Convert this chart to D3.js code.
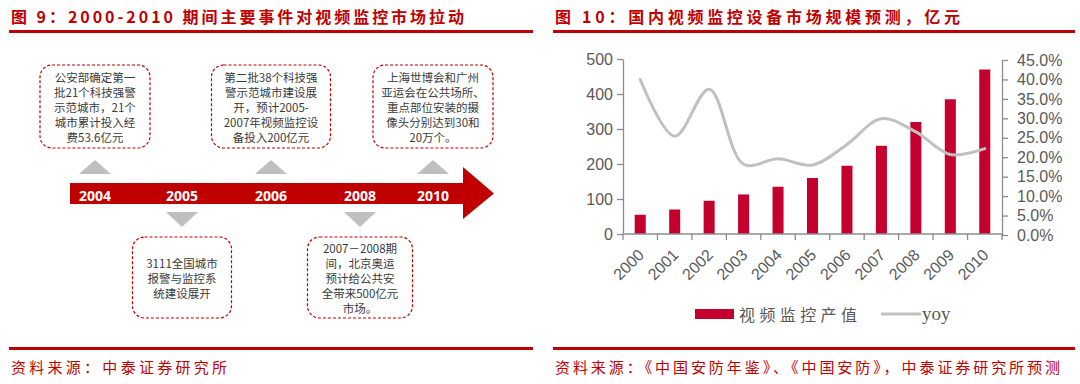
<!DOCTYPE html>
<html>
<head>
<meta charset="utf-8">
<script src="https://cdn.jsdelivr.net/npm/d3@7"></script>
<style>
  html, body { margin: 0; padding: 0; background: #fff; }
  svg { display: block; }
</style>
</head>
<body>
<div id="chart"></div>
<script>
// Two panels: a timeline of events (left) and a bar + yoy line chart (right).

// ---- data: left panel (timeline) ----
const eventYears = ['2004', '2005', '2006', '2008', '2010'];
const eventSide = ['up', 'down', 'up', 'down', 'up'];
const eventTexts = [
  ['公安部确定第一', '批21个科技强警', '示范城市，21个', '城市累计投入经', '费53.6亿元'],
  ['3111全国城市', '报警与监控系', '统建设展开'],
  ['第二批38个科技强', '警示范城市建设展', '开，预计2005-', '2007年视频监控设', '备投入200亿元'],
  ['2007－2008期', '间，北京奥运', '预计给公共安', '全带来500亿元', '市场。'],
  ['上海世博会和广州', '亚运会在公共场所、', '重点部位安装的摄', '像头分别达到30和', '20万个。']
];

// ---- data: right panel (market size) ----
const years = ['2000', '2001', '2002', '2003', '2004', '2005', '2006', '2007', '2008', '2009', '2010'];
const outputValues = [55, 70, 95, 113, 135, 160, 195, 252, 320, 385, 470];
const yoyValues = [0.40, 0.254, 0.375, 0.182, 0.196, 0.180, 0.233, 0.299, 0.265, 0.207, 0.222];
const leftTicks = [0, 100, 200, 300, 400, 500];
const rightTicks = [0, 0.05, 0.10, 0.15, 0.20, 0.25, 0.30, 0.35, 0.40, 0.45];
const seriesNames = ['视频监控产值', 'yoy'];

const titles = ['图 9：2000-2010 期间主要事件对视频监控市场拉动', '图 10：国内视频监控设备市场规模预测，亿元'];
const sources = ['资料来源：中泰证券研究所', '资料来源：《中国安防年鉴》、《中国安防》，中泰证券研究所预测'];

const RED = '#c00000';
const BAR = '#c4002f';
const LINE = '#c0c0c0';
const AXIS = '#8c8c8c';
const TXT = '#595959';
const CJK = '"Noto Sans CJK SC", "Noto Sans", sans-serif';

const W = 1080, H = 384;
const svg = d3.select('#chart').append('svg')
  .attr('width', W).attr('height', H)
  .style('background', '#fff');

// ---- frame: titles, rules, sources ----
const frames = [
  { x0: 9, x1: 533, titleW: 453, srcW: 216 },
  { x0: 553, x1: 1075, titleW: 405, srcW: 505 }
];
frames.forEach((f, i) => {
  svg.append('text')
    .attr('x', f.x0 + 2).attr('y', 16)
    .attr('dominant-baseline', 'central')
    .attr('font-family', CJK).attr('font-weight', 700).attr('font-size', 16)
    .attr('fill', RED)
    .attr('textLength', f.titleW).attr('lengthAdjust', 'spacing')
    .text(titles[i]);
  svg.append('rect').attr('x', f.x0).attr('y', 30).attr('width', f.x1 - f.x0).attr('height', 3).attr('fill', RED);
  svg.append('rect').attr('x', f.x0).attr('y', 347).attr('width', f.x1 - f.x0).attr('height', 3).attr('fill', RED);
  svg.append('text')
    .attr('x', f.x0 + 2).attr('y', 366)
    .attr('dominant-baseline', 'central')
    .attr('font-family', CJK).attr('font-size', 15)
    .attr('fill', RED)
    .attr('textLength', f.srcW).attr('lengthAdjust', 'spacing')
    .text(sources[i]);
});

// ---- left panel: timeline ----
const slotX = d3.scaleOrdinal().domain(eventYears).range([95, 182, 271, 360, 433]);
const boxW = d3.scaleOrdinal().domain(eventYears).range([110, 99, 119, 105, 120]);
const arrow = { x0: 70, x1: 463, tip: 494, top: 183, bottom: 204, headTop: 167, headBottom: 219 };
const midY = (arrow.top + arrow.bottom) / 2;

const tl = svg.append('g').attr('class', 'timeline');
tl.append('path')
  .attr('d', d3.line()([
    [arrow.x0, arrow.top], [arrow.x1, arrow.top], [arrow.x1, arrow.headTop],
    [arrow.tip, midY], [arrow.x1, arrow.headBottom], [arrow.x1, arrow.bottom],
    [arrow.x0, arrow.bottom]
  ]) + 'Z')
  .attr('fill', RED);

tl.selectAll('text.year')
  .data(eventYears)
  .join('text')
  .attr('class', 'year')
  .attr('x', d => slotX(d)).attr('y', midY + 2)
  .attr('text-anchor', 'middle').attr('dominant-baseline', 'central')
  .attr('font-family', '"Open Sans", sans-serif').attr('font-weight', 700).attr('font-size', 14)
  .attr('fill', '#fff')
  .text(d => d);

// grey pointers
tl.selectAll('path.pointer')
  .data(eventYears)
  .join('path')
  .attr('class', 'pointer')
  .attr('fill', '#bfbfbf')
  .attr('d', (d, i) => {
    const x = slotX(d);
    if (eventSide[i] === 'up') return d3.line()([[x - 16, 174], [x + 16, 174], [x, 160]]) + 'Z';
    return d3.line()([[x - 16, 212], [x + 16, 212], [x, 227]]) + 'Z';
  });

// event boxes
const boxes = tl.selectAll('g.event')
  .data(eventYears)
  .join('g')
  .attr('class', 'event');

boxes.append('rect')
  .attr('x', d => slotX(d) - boxW(d) / 2)
  .attr('y', (d, i) => eventSide[i] === 'up' ? 65 : 237)
  .attr('width', d => boxW(d))
  .attr('height', (d, i) => eventSide[i] === 'up' ? 83 : 81)
  .attr('rx', 12).attr('ry', 12)
  .attr('fill', '#fff')
  .attr('stroke', RED).attr('stroke-width', 1.2)
  .attr('stroke-dasharray', '3,2');

boxes.each(function(d, i) {
  const lines = eventTexts[i];
  const boxTop = eventSide[i] === 'up' ? 65 : 237;
  const boxH = eventSide[i] === 'up' ? 83 : 81;
  const lh = 15;
  const startY = boxTop + boxH / 2 - (lines.length - 1) * lh / 2;
  d3.select(this).selectAll('text')
    .data(lines)
    .join('text')
    .attr('x', slotX(d))
    .attr('y', (t, j) => startY + j * lh)
    .attr('text-anchor', 'middle').attr('dominant-baseline', 'central')
    .attr('font-family', CJK).attr('font-size', 11.5)
    .attr('fill', '#3a3a3a')
    .text(t => t);
});

// ---- right panel: bar + line chart ----
const plot = { left: 623, right: 1002, top: 59, bottom: 234 };

const x = d3.scaleBand().domain(years)
  .range([plot.left, plot.right])
  .paddingInner(0.68).paddingOuter(0.34);
const y = d3.scaleLinear().domain([0, 500]).range([plot.bottom, plot.top]);
const y2 = d3.scaleLinear().domain([0, 0.45]).range([plot.bottom + 1, plot.top + 1]);

const chart = svg.append('g').attr('class', 'market');

chart.selectAll('rect.bar')
  .data(years)
  .join('rect')
  .attr('class', 'bar')
  .attr('x', d => x(d))
  .attr('y', (d, i) => y(outputValues[i]))
  .attr('width', x.bandwidth())
  .attr('height', (d, i) => y(0) - y(outputValues[i]))
  .attr('fill', BAR);

const yoyLine = d3.line()
  .x((d, i) => x(years[i]) + x.bandwidth() / 2)
  .y(d => y2(d))
  .curve(d3.curveCatmullRom.alpha(0.5));

chart.append('path')
  .datum(yoyValues)
  .attr('d', yoyLine)
  .attr('fill', 'none')
  .attr('stroke', LINE)
  .attr('stroke-width', 3)
  .attr('stroke-linecap', 'round');

function styleAxis(g) {
  g.selectAll('path, line').attr('stroke', AXIS).attr('stroke-width', 1.3);
  g.selectAll('text')
    .attr('font-family', '"Liberation Sans", Arial, sans-serif')
    .attr('font-size', 16)
    .attr('fill', TXT);
}

chart.append('g')
  .attr('transform', `translate(${plot.left},0)`)
  .call(d3.axisLeft(y).tickValues(leftTicks).tickSize(6).tickPadding(4).tickSizeOuter(0))
  .call(styleAxis);

chart.append('g')
  .attr('transform', `translate(${plot.right},0)`)
  .call(d3.axisRight(y2).tickValues(rightTicks).tickFormat(d3.format('.1%')).tickSize(6).tickPadding(9).tickSizeOuter(0))
  .call(styleAxis);

// x axis: baseline, boundary ticks, rotated labels
const xAxis = chart.append('g').attr('class', 'x-axis');
xAxis.append('line')
  .attr('x1', plot.left).attr('x2', plot.right)
  .attr('y1', y(0)).attr('y2', y(0))
  .attr('stroke', AXIS).attr('stroke-width', 1.3);
xAxis.selectAll('line.tick')
  .data(d3.range(years.length + 1))
  .join('line')
  .attr('class', 'tick')
  .attr('x1', i => plot.left + i * x.step())
  .attr('x2', i => plot.left + i * x.step())
  .attr('y1', y(0)).attr('y2', y(0) + 6)
  .attr('stroke', AXIS).attr('stroke-width', 1.3);
xAxis.selectAll('text')
  .data(years)
  .join('text')
  .attr('transform', d => `translate(${x(d) + x.bandwidth() / 2 + 1},${y(0) + 18}) rotate(-45)`)
  .attr('text-anchor', 'end')
  .attr('dominant-baseline', 'central')
  .attr('font-family', '"Liberation Sans", Arial, sans-serif')
  .attr('font-size', 16)
  .attr('fill', TXT)
  .text(d => d);

// legend
const legend = chart.append('g').attr('class', 'legend');
legend.append('rect').attr('x', 695).attr('y', 309).attr('width', 39).attr('height', 10).attr('fill', BAR);
legend.append('text')
  .attr('x', 739).attr('y', 314)
  .attr('dominant-baseline', 'central')
  .attr('font-family', CJK).attr('font-size', 16)
  .attr('fill', TXT)
  .attr('textLength', 118).attr('lengthAdjust', 'spacing')
  .text(seriesNames[0]);
legend.append('line')
  .attr('x1', 881).attr('x2', 921).attr('y1', 314).attr('y2', 314)
  .attr('stroke', LINE).attr('stroke-width', 3);
legend.append('text')
  .attr('x', 922).attr('y', 313)
  .attr('dominant-baseline', 'central')
  .attr('font-family', '"Liberation Serif", serif').attr('font-size', 19)
  .attr('fill', TXT)
  .text(seriesNames[1]);
</script>
</body>
</html>
